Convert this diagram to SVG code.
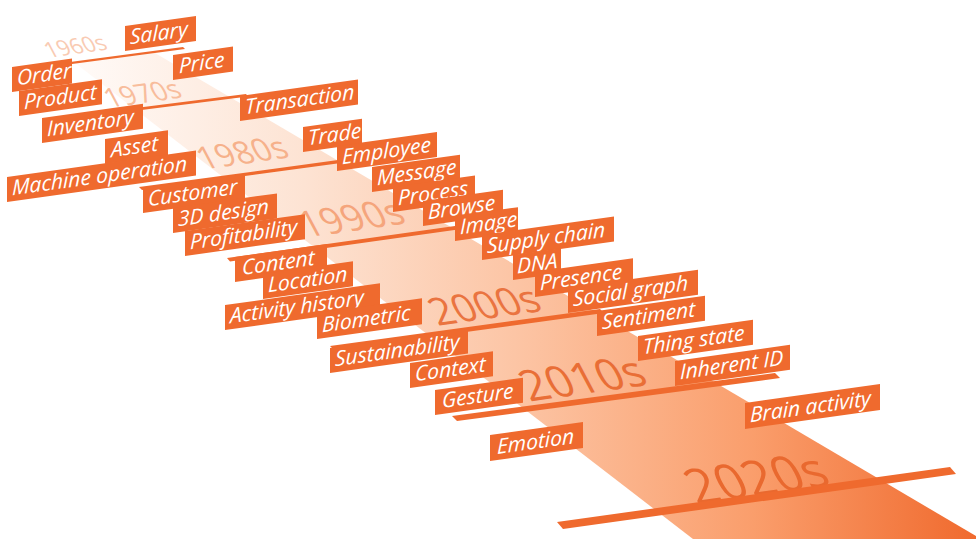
<svg xmlns="http://www.w3.org/2000/svg" width="976" height="539" viewBox="0 0 976 539">
<defs>
<linearGradient id="band" gradientUnits="userSpaceOnUse" x1="80" y1="0" x2="976" y2="0">
<stop offset="0" stop-color="#fffaf7"/>
<stop offset="0.25" stop-color="#fde3d3"/>
<stop offset="0.5" stop-color="#fcc3a2"/>
<stop offset="0.75" stop-color="#fa9e6c"/>
<stop offset="1" stop-color="#f06a2e"/>
</linearGradient>
<style>
.box{fill:#ef6a2e}
.lbl{font-family:"Open Sans","Noto Sans",sans-serif;font-style:italic;font-size:21px;fill:#ffffff}
.dec{font-family:"Open Sans","Noto Sans",sans-serif;font-weight:400;text-anchor:middle}
.sep{fill:#ef6a2e}
</style>
</defs>
<rect width="976" height="539" fill="#ffffff"/>
<polygon id="band-shape" points="75,63 155,53 976,536 976,539 693,539" fill="url(#band)"/>
<g id="decades">
<text class="dec" transform="translate(75,46) rotate(-8) skewX(20)" y="8" font-size="22" fill="#f9cbb3">1960s</text>
<text class="dec" transform="translate(142,93) rotate(-8) skewX(20)" y="10" font-size="27" fill="#f8bd9c">1970s</text>
<text class="dec" transform="translate(242,153) rotate(-8) skewX(20)" y="11" font-size="32" fill="#f6b18b">1980s</text>
<text class="dec" transform="translate(351,218) rotate(-8) skewX(20)" y="13" font-size="37" fill="#f5a57c">1990s</text>
<text class="dec" transform="translate(484,305) rotate(-8) skewX(20)" y="14" font-size="39" fill="#ea7440">2000s</text>
<text class="dec" transform="translate(582,378) rotate(-8) skewX(20)" y="16" font-size="44" fill="#e96e36">2010s</text>
<text class="dec" transform="translate(756,478) rotate(-8) skewX(20)" y="18" font-size="50" fill="#e9692f">2020s</text>
</g>
<g id="connectors">
<polygon class="sep" points="70,62 183,47 185,49 72,64"/>
<polygon class="sep" points="104,112 246,94 248,96.5 106,114.5"/>
<polygon class="sep" points="139,187 338,160 341,163 142,190"/>
<polygon class="sep" points="227,258 455,226 458,229.5 230,261.5"/>
<polygon class="sep" points="330,346 600,309 604,313 334,350"/>
<polygon class="sep" points="452,416 775,373 780,378 457,421"/>
<polygon class="sep" points="557,522 950,467 956,474 563,529"/>
</g>
<g id="n-salary" transform="translate(125,26) skewY(-8)"><rect class="box" width="71" height="25"/><text class="lbl" x="5" y="19">Salary</text></g>
<g id="n-order" transform="translate(12,67) skewY(-8)"><rect class="box" width="60" height="25"/><text class="lbl" x="5" y="19">Order</text></g>
<g id="n-price" transform="translate(173,55) skewY(-8)"><rect class="box" width="60" height="25"/><text class="lbl" x="6" y="19">Price</text></g>
<g id="n-product" transform="translate(19,91) skewY(-8)"><rect class="box" width="83" height="25"/><text class="lbl" x="5" y="19">Product</text></g>
<g id="n-transaction" transform="translate(240,96) skewY(-8)"><rect class="box" width="118" height="25"/><text class="lbl" x="5" y="19">Transaction</text></g>
<g id="n-inventory" transform="translate(42,118) skewY(-8)"><rect class="box" width="101" height="25"/><text class="lbl" x="5" y="19">Inventory</text></g>
<g id="n-asset" transform="translate(105,139) skewY(-8)"><rect class="box" width="63" height="25"/><text class="lbl" x="6" y="19">Asset</text></g>
<g id="n-machine" transform="translate(7,177) skewY(-8)"><rect class="box" width="189" height="25"/><text class="lbl" x="5" y="19">Machine operation</text></g>
<g id="n-trade" transform="translate(303,127) skewY(-8)"><rect class="box" width="59" height="25"/><text class="lbl" x="5" y="19">Trade</text></g>
<g id="n-employee" transform="translate(337,146) skewY(-8)"><rect class="box" width="100" height="25"/><text class="lbl" x="5" y="19">Employee</text></g>
<g id="n-customer" transform="translate(143,188) skewY(-8)"><rect class="box" width="102" height="25"/><text class="lbl" x="5" y="19">Customer</text></g>
<g id="n-message" transform="translate(372,167) skewY(-8)"><rect class="box" width="88" height="25"/><text class="lbl" x="5" y="19">Message</text></g>
<g id="n-3ddesign" transform="translate(173,208) skewY(-8)"><rect class="box" width="104" height="25"/><text class="lbl" x="5" y="19">3D design</text></g>
<g id="n-process" transform="translate(393,187) skewY(-8)"><rect class="box" width="82" height="25"/><text class="lbl" x="5" y="19">Process</text></g>
<g id="n-browse" transform="translate(423,201) skewY(-8)"><rect class="box" width="80" height="25"/><text class="lbl" x="5" y="19">Browse</text></g>
<g id="n-profitability" transform="translate(185,231) skewY(-8)"><rect class="box" width="120" height="25"/><text class="lbl" x="5" y="19">Profitability</text></g>
<g id="n-image" transform="translate(455,216) skewY(-8)"><rect class="box" width="63" height="25"/><text class="lbl" x="5" y="19">Image</text></g>
<g id="n-supply" transform="translate(482,235) skewY(-8)"><rect class="box" width="132" height="25"/><text class="lbl" x="5" y="19">Supply chain</text></g>
<g id="n-content" transform="translate(235,257) skewY(-8)"><rect class="box" width="92" height="25"/><text class="lbl" x="7" y="19">Content</text></g>
<g id="n-dna" transform="translate(513,255) skewY(-8)"><rect class="box" width="48" height="25"/><text class="lbl" x="4" y="19">DNA</text></g>
<g id="n-location" transform="translate(263,274) skewY(-8)"><rect class="box" width="90" height="25"/><text class="lbl" x="5" y="19">Location</text></g>
<g id="n-presence" transform="translate(535,272) skewY(-8)"><rect class="box" width="98" height="25"/><text class="lbl" x="5" y="19">Presence</text></g>
<g id="n-activity" transform="translate(225,305) skewY(-8)"><rect class="box" width="155" height="25"/><text class="lbl" x="5" y="19">Activity history</text></g>
<g id="n-social" transform="translate(568,288) skewY(-8)"><rect class="box" width="130" height="25"/><text class="lbl" x="5" y="19">Social graph</text></g>
<g id="n-biometric" transform="translate(317,313) skewY(-8)"><rect class="box" width="105" height="26"/><text class="lbl" x="5" y="20">Biometric</text></g>
<g id="n-sentiment" transform="translate(597,311) skewY(-8)"><rect class="box" width="108" height="25"/><text class="lbl" x="5" y="19">Sentiment</text></g>
<g id="n-sustainability" transform="translate(330,348) skewY(-8)"><rect class="box" width="138" height="25"/><text class="lbl" x="5" y="19">Sustainability</text></g>
<g id="n-thingstate" transform="translate(638,336) skewY(-8)"><rect class="box" width="115" height="25"/><text class="lbl" x="5" y="19">Thing state</text></g>
<g id="n-context" transform="translate(410,363) skewY(-8)"><rect class="box" width="83" height="25"/><text class="lbl" x="5" y="19">Context</text></g>
<g id="n-inherent" transform="translate(675,361) skewY(-8)"><rect class="box" width="115" height="25"/><text class="lbl" x="5" y="19">Inherent ID</text></g>
<g id="n-gesture" transform="translate(435,390) skewY(-8)"><rect class="box" width="88" height="25"/><text class="lbl" x="7" y="19">Gesture</text></g>
<g id="n-brain" transform="translate(745,403) skewY(-8)"><rect class="box" width="135" height="26"/><text class="lbl" x="5" y="20">Brain activity</text></g>
<g id="n-emotion" transform="translate(490,435) skewY(-8)"><rect class="box" width="93" height="26"/><text class="lbl" x="7" y="20">Emotion</text></g>
</svg>
